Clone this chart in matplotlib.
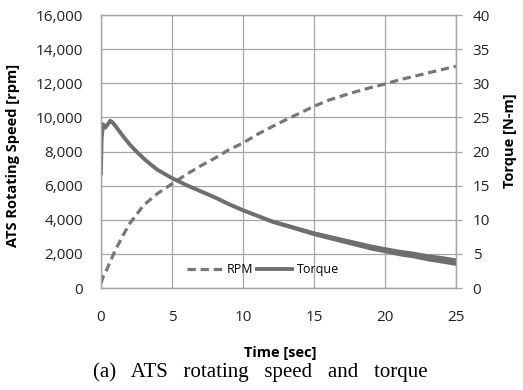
import numpy as np
import matplotlib
matplotlib.use("Agg")
import matplotlib.pyplot as plt
from matplotlib.ticker import FuncFormatter

# RPM curve (left axis)
rpm_time = [0, 0.15, 0.3, 0.5, 1, 1.5, 2, 2.5, 3, 4, 5, 6, 7, 8, 9, 10, 11, 12.5,
            14, 15, 16, 17.5, 19, 20, 21, 22.5, 24, 25]
rpm = [280, 650, 880, 1250, 2200, 3000, 3750, 4300, 4850, 5550, 6100, 6650, 7150,
       7600, 8100, 8500, 9000, 9650, 10250, 10650, 11000, 11400, 11750, 11960,
       12200, 12500, 12800, 13000]

# Torque curve (right axis) and half-width of its noise band
torque_time = [0, 0.05, 0.15, 0.3, 0.45, 0.65, 0.8, 1.0, 1.5, 2, 2.5, 3, 3.5, 4, 4.5,
               5, 6, 7, 8, 9, 10, 11, 12, 13, 14, 15, 16, 17, 18, 19, 20, 21, 22,
               23, 24, 25]
torque = [16.8, 22.0, 24.0, 23.5, 23.9, 24.5, 24.3, 23.8, 22.4, 21.1, 20.0, 19.0,
          18.1, 17.3, 16.7, 16.1, 15.1, 14.2, 13.3, 12.3, 11.4, 10.6, 9.8, 9.2, 8.6,
          8.0, 7.5, 7.0, 6.5, 6.0, 5.6, 5.2, 4.9, 4.5, 4.2, 3.85]
torque_noise = [0, 0, 0, 0, 0, 0, 0, 0, 0.05, 0.1, 0.1, 0.12, 0.12, 0.15, 0.15, 0.15,
                0.2, 0.2, 0.22, 0.22, 0.25, 0.25, 0.28, 0.3, 0.32, 0.35,
                0.38, 0.4, 0.42, 0.45, 0.45, 0.48, 0.5, 0.52, 0.55, 0.55]

sans = "Open Sans"
grey = "#777777"
grid_grey = "#a6a6a6"

fig = plt.figure(figsize=(5.23, 3.9), dpi=100)
ax = fig.add_axes([0.193, 0.2615, 0.679, 0.70])
ax2 = ax.twinx()

ax.plot(rpm_time, rpm, color=grey, lw=2.3, ls=(0, (2.6, 1.5)), label="RPM")

t = np.array(torque_time)
tq = np.array(torque)
tn = np.array(torque_noise)
ax2.fill_between(t, tq - tn, tq + tn, color="#6f6f6f", lw=0)
ax2.plot(t, tq, color="#6f6f6f", lw=2.8, label="Torque")

ax.set_xlim(0, 25)
ax.set_ylim(0, 16000)
ax2.set_ylim(0, 40)
ax.set_xticks(range(0, 26, 5))
ax.set_yticks(range(0, 16001, 2000))
ax2.set_yticks(range(0, 41, 5))
ax.yaxis.set_major_formatter(FuncFormatter(lambda v, p: f"{int(v):,}"))

ax.grid(True, color=grid_grey, lw=0.9)
ax.set_axisbelow(True)
for a in (ax, ax2):
    for s in a.spines.values():
        s.set_color(grid_grey)
        s.set_linewidth(0.9)

ax.tick_params(axis="y", length=0, pad=13, labelsize=11, labelcolor="#222222")
ax.tick_params(axis="x", length=0, pad=16, labelsize=11, labelcolor="#222222")
ax2.tick_params(axis="y", length=4, width=0.9, color=grid_grey, pad=8,
                labelsize=11, labelcolor="#222222")
for lab in ax.get_xticklabels() + ax.get_yticklabels() + ax2.get_yticklabels():
    lab.set_fontfamily(sans)

# axis titles placed in figure coordinates
fig.text(0.025, 0.601, "ATS Rotating Speed [rpm]", rotation=90, ha="center",
         va="center", fontfamily=sans, fontweight="bold", fontsize=10.5)
fig.text(0.975, 0.638, "Torque [N-m]", rotation=90, ha="center", va="center",
         fontfamily=sans, fontweight="bold", fontsize=10.5)
fig.text(0.535, 0.095, "Time [sec]", ha="center", va="center",
         fontfamily=sans, fontweight="bold", fontsize=10.5)
fig.text(0.497, 0.046, "(a)   ATS   rotating   speed   and   torque", ha="center",
         va="center", fontfamily="Liberation Serif", fontsize=15)

h1, l1 = ax.get_legend_handles_labels()
h2, l2 = ax2.get_legend_handles_labels()
leg = ax2.legend(h1 + h2, l1 + l2, loc="center", bbox_to_anchor=(0.457, 0.066),
                 ncol=2, frameon=False, handlelength=2.8, columnspacing=0.3,
                 handletextpad=0.4, prop={"family": sans, "size": 9})

fig.savefig("out.png", dpi=100)
